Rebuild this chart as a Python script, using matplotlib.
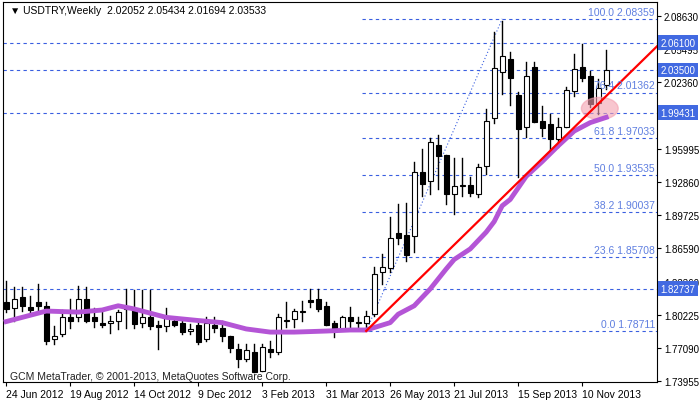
import matplotlib.pyplot as plt
from matplotlib.patches import Ellipse, Rectangle

plt.rcParams['font.family'] = ['Liberation Sans', 'DejaVu Sans']

# weekly OHLC, 24 Jun 2012 onwards
opens = [1.815, 1.809, 1.819, 1.810, 1.815, 1.811, 1.7795, 1.784, 1.800, 1.800,
         1.817, 1.800, 1.7946, 1.7946, 1.797, 1.808, 1.808, 1.7946, 1.800, 1.793,
         1.792, 1.797, 1.795, 1.787, 1.793, 1.779, 1.793, 1.790, 1.782, 1.770,
         1.760, 1.767, 1.749, 1.770, 1.767, 1.797, 1.798, 1.805, 1.8165, 1.817,
         1.811, 1.795, 1.789, 1.800, 1.795, 1.795, 1.803, 1.843, 1.847, 1.880,
         1.878, 1.877, 1.938, 1.930, 1.964, 1.954, 1.917, 1.925, 1.926, 1.917,
         1.944, 1.989, 2.033, 2.045, 2.011, 1.981, 2.038, 1.987, 1.984, 1.969,
         1.981, 2.015, 2.038, 2.029, 2.004, 2.0205]
highs = [1.835, 1.829, 1.829, 1.820, 1.832, 1.815, 1.792, 1.807, 1.817, 1.830,
         1.829, 1.809, 1.805, 1.801, 1.807, 1.827, 1.826, 1.826, 1.826, 1.797,
         1.809, 1.800, 1.797, 1.794, 1.796, 1.800, 1.800, 1.797, 1.782, 1.775,
         1.775, 1.775, 1.775, 1.778, 1.803, 1.815, 1.808, 1.816, 1.827, 1.827,
         1.815, 1.797, 1.801, 1.810, 1.800, 1.806, 1.848, 1.860, 1.895, 1.908,
         1.909, 1.948, 1.960, 1.970, 1.973, 1.954, 1.951, 1.951, 1.933, 1.946,
         1.998, 2.071, 2.082, 2.052, 2.014, 2.043, 2.043, 2.001, 1.993, 1.989,
         2.019, 2.050, 2.060, 2.034, 2.026, 2.0543]
lows = [1.805, 1.797, 1.806, 1.803, 1.805, 1.775, 1.775, 1.782, 1.790, 1.797,
        1.796, 1.791, 1.791, 1.785, 1.789, 1.790, 1.790, 1.791, 1.789, 1.770,
        1.787, 1.792, 1.784, 1.784, 1.775, 1.778, 1.786, 1.778, 1.767, 1.753,
        1.759, 1.748, 1.749, 1.762, 1.765, 1.791, 1.791, 1.797, 1.810, 1.806,
        1.793, 1.781, 1.789, 1.789, 1.791, 1.789, 1.801, 1.832, 1.843, 1.870,
        1.854, 1.862, 1.915, 1.917, 1.922, 1.908, 1.898, 1.915, 1.915, 1.914,
        1.936, 1.985, 2.012, 2.002, 1.933, 1.971, 1.986, 1.972, 1.960, 1.962,
        1.981, 2.010, 2.025, 2.000, 1.993, 2.0169]
closes = [1.808, 1.817, 1.811, 1.807, 1.811, 1.778, 1.782, 1.800, 1.797, 1.817,
          1.797, 1.797, 1.7927, 1.7965, 1.805, 1.808, 1.794, 1.800, 1.792, 1.791,
          1.800, 1.793, 1.786, 1.789, 1.777, 1.795, 1.790, 1.782, 1.771, 1.760,
          1.769, 1.748, 1.772, 1.767, 1.800, 1.797, 1.806, 1.805, 1.8145, 1.808,
          1.793, 1.789, 1.800, 1.797, 1.795, 1.801, 1.841, 1.848, 1.875, 1.875,
          1.859, 1.938, 1.927, 1.967, 1.953, 1.917, 1.925, 1.925, 1.918, 1.943,
          1.987, 2.037, 2.048, 2.027, 1.979, 2.029, 1.986, 1.980, 1.969, 1.981,
          2.016, 2.036, 2.027, 2.003, 2.018, 2.0353]

# moving average
ma_idx = [0, 5, 9, 12, 14, 16, 18, 20, 24, 27, 30, 33, 36, 40, 43, 45, 48, 49,
          51, 53, 55, 56, 58, 60, 61, 62, 63, 65, 67, 69, 71, 73, 75]
ma_val = [1.796, 1.806, 1.805, 1.807, 1.811, 1.808, 1.804, 1.800, 1.797, 1.795,
          1.789, 1.786, 1.786, 1.787, 1.788, 1.788, 1.795, 1.803, 1.811, 1.827,
          1.846, 1.855, 1.865, 1.881, 1.891, 1.906, 1.912, 1.934, 1.948, 1.963,
          1.977, 1.985, 1.990]

fib_levels = [0.0, 23.6, 38.2, 50.0, 61.8, 76.4, 100.0]
fib_prices = [1.78711, 1.85708, 1.90037, 1.93535, 1.97033, 2.01362, 2.08359]
hlines = [2.06100, 2.03500, 1.99431, 1.82737]
price_ticks = [2.08630, 2.05495, 2.02360, 1.95995, 1.92860, 1.89725,
               1.86590, 1.83360, 1.80225, 1.77090, 1.73955]
date_pos = [0, 8, 16, 24, 32, 40, 48, 56, 64, 72]
date_labels = ['24 Jun 2012', '19 Aug 2012', '14 Oct 2012', '9 Dec 2012',
               '3 Feb 2013', '31 Mar 2013', '26 May 2013', '21 Jul 2013',
               '15 Sep 2013', '10 Nov 2013']

blue = '#3a5fe0'
fig = plt.figure(figsize=(7, 4.02), dpi=100)
ax = fig.add_axes([3 / 700, 19 / 402, 654 / 700, 380 / 402])
ax.set_xlim(-0.4, 81.35)
ax.set_ylim(1.7386, 2.0996)

for y in hlines:
    ax.axhline(y, color=blue, ls=(0, (3, 3)), lw=0.8, zorder=1)
for lv, p in zip(fib_levels, fib_prices):
    ax.plot([44.5, 81.35], [p, p], color=blue, ls=(0, (3, 3)), lw=0.8, zorder=1)
    ax.text(81.1, p + 0.002, f'{lv:.1f} {p:.5f}', color='#5f7fe0', fontsize=7.5,
            ha='right', va='bottom', zorder=5)
ax.plot([45, 62], [fib_prices[0], fib_prices[-1]], color=blue, ls=(0, (1, 2)), lw=0.8)

for i, (o, h, l, c) in enumerate(zip(opens, highs, lows, closes)):
    ax.plot([i, i], [l, h], color='black', lw=1, zorder=2)
    lo, hi = min(o, c), max(o, c)
    ax.add_patch(Rectangle((i - 0.3, lo), 0.6, max(hi - lo, 0.0008),
                           facecolor='white' if c >= o else 'black',
                           edgecolor='black', lw=0.8, zorder=3))

ax.plot(ma_idx, ma_val, color='#b455d6', lw=3.5, zorder=4)
ax.plot([45, 81.35], [1.7871, 2.0575], color='red', lw=1.6, zorder=4)
ax.add_patch(Ellipse((74.2, 1.9985), 4.6, 0.021, color='#f4a0b0', alpha=0.6, zorder=3))

ax.yaxis.tick_right()
ax.set_yticks(price_ticks)
ax.set_yticklabels([f'{t:.5f}' for t in price_ticks], fontsize=7)
ax.set_xticks(date_pos)
ax.set_xticklabels(date_labels, fontsize=7.5, ha='left')
ax.tick_params(length=3, pad=2)
for y in hlines:
    ax.text(81.75, y, f'{y:.5f}', color='white', fontsize=7, va='center',
            bbox=dict(boxstyle='square,pad=0.25', fc='#4169e1', ec='none'),
            transform=ax.transData, clip_on=False, zorder=6)

ax.text(0.5, 2.097, '\u25bc USDTRY,Weekly  2.02052 2.05434 2.01694 2.03533',
        fontsize=7.5, va='top')
ax.text(0.5, 1.7415, 'GCM MetaTrader, \u00a9 2001-2013, MetaQuotes Software Corp.',
        fontsize=7.5, color='#222222')
fig.savefig('out.png')
